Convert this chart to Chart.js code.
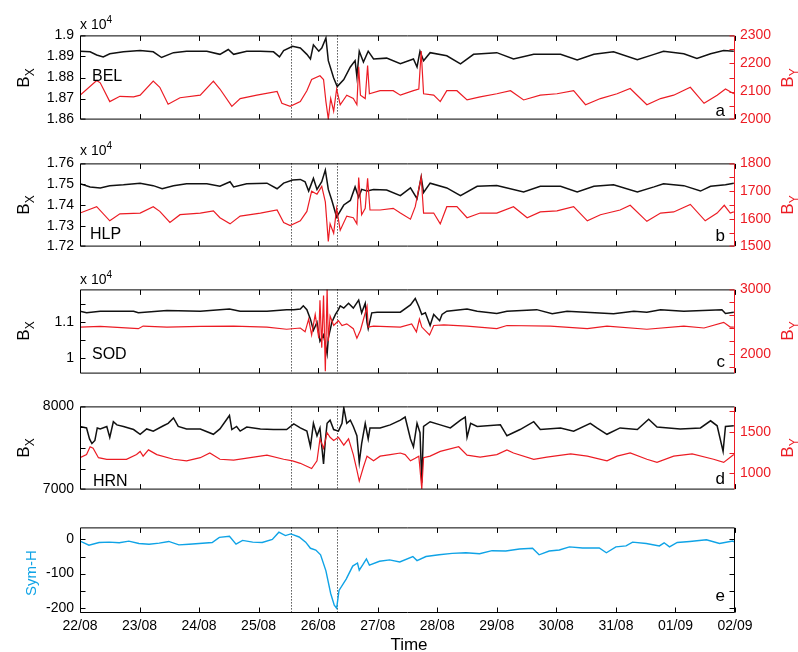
<!DOCTYPE html>
<html>
<head>
<meta charset="utf-8">
<script src="https://cdn.jsdelivr.net/npm/chart.js@4"></script>
<style>
body { margin: 0; background: #fff; }
#fig { position: relative; width: 798px; height: 652px; overflow: hidden; font-family: "Liberation Sans", Arial, Helvetica, sans-serif; color: #000; }
.panel { position: absolute; left: 0; }
.txt { position: absolute; line-height: 1; white-space: nowrap; }
.rot { position: absolute; line-height: 1; white-space: nowrap; font-size: 17px; transform: translate(-50%, -50%) rotate(-90deg); }
.rot sub { font-size: 12px; vertical-align: -5px; }
.mult sup { font-size: 10px; vertical-align: 6px; }
</style>
</head>
<body>
<div id="fig">
  <canvas id="cA" class="panel" width="798" height="113" style="top:21px"></canvas>
  <canvas id="cB" class="panel" width="798" height="112" style="top:149px"></canvas>
  <canvas id="cC" class="panel" width="798" height="113" style="top:275px"></canvas>
  <canvas id="cD" class="panel" width="798" height="112" style="top:392px"></canvas>
  <canvas id="cE" class="panel" width="798" height="130" style="top:513px"></canvas>

  <div class="txt mult" style="left:80px;top:15px;font-size:14px">x 10<sup>4</sup></div>
  <div class="txt mult" style="left:80px;top:141px;font-size:14px">x 10<sup>4</sup></div>
  <div class="txt mult" style="left:80px;top:270px;font-size:14px">x 10<sup>4</sup></div>

  <div class="txt" style="left:92px;top:68px;font-size:16px">BEL</div>
  <div class="txt" style="left:90px;top:226px;font-size:16px">HLP</div>
  <div class="txt" style="left:92px;top:346px;font-size:16px">SOD</div>
  <div class="txt" style="left:93px;top:473px;font-size:16px">HRN</div>

  <div class="txt" style="right:73px;top:102px;font-size:17px">a</div>
  <div class="txt" style="right:73px;top:227px;font-size:17px">b</div>
  <div class="txt" style="right:73px;top:353px;font-size:17px">c</div>
  <div class="txt" style="right:73px;top:470px;font-size:17px">d</div>
  <div class="txt" style="right:73px;top:587px;font-size:17px">e</div>

  <div class="rot" style="left:25px;top:78px">B<sub>X</sub></div>
  <div class="rot" style="left:25px;top:205px">B<sub>X</sub></div>
  <div class="rot" style="left:25px;top:331px">B<sub>X</sub></div>
  <div class="rot" style="left:25px;top:448px">B<sub>X</sub></div>
  <div class="rot" style="left:789px;top:78px;color:#ec1c24">B<sub>Y</sub></div>
  <div class="rot" style="left:789px;top:205px;color:#ec1c24">B<sub>Y</sub></div>
  <div class="rot" style="left:789px;top:331px;color:#ec1c24">B<sub>Y</sub></div>
  <div class="rot" style="left:789px;top:448px;color:#ec1c24">B<sub>Y</sub></div>
  <div class="rot" style="left:30px;top:573px;font-size:15px;color:#0fa3e6">Sym-H</div>

  <div class="txt" style="left:409px;top:636px;font-size:17px;transform:translateX(-50%)">Time</div>
</div>

<script>
const FONT = '"Liberation Sans", Arial, Helvetica, sans-serif';
const RED = '#ec1c24';
const BLUE = '#0fa3e6';
const BLACK = '#111';

// time axis: days since 22/08 00:00
const dayTicks = [0, 1, 2, 3, 4, 5, 6, 7, 8, 9, 10, 11];
const dateLabels = ['22/08', '23/08', '24/08', '25/08', '26/08', '27/08', '28/08', '29/08', '30/08', '31/08', '01/09', '02/09'];
const eventDays = [3.55, 4.32];

// BEL
const belXDay = [0.00,0.17,0.28,0.39,0.50,0.73,1.01,1.23,1.37,1.57,1.79,2.13,2.35,2.49,2.58,2.80,3.03,3.25,3.35,3.42,3.57,3.70,3.81,3.87,3.92,4.01,4.06,4.13,4.17,4.26,4.32,4.43,4.54,4.62,4.65,4.69,4.76,4.84,4.93,5.15,5.38,5.60,5.66,5.71,5.77,5.88,6.16,6.39,6.61,7.00,7.28,7.62,8.07,8.35,8.63,8.96,9.36,9.64,9.80,10.14,10.36,10.59,10.81,10.98];
const belX = [18925,18922,18907,18898,18913,18922,18928,18922,18895,18918,18925,18925,18910,18933,18910,18925,18925,18922,18898,18928,18948,18940,18910,18888,18955,18925,18940,18988,18880,18798,18757,18790,18850,18880,18805,18925,18873,18925,18888,18892,18865,18888,18850,18925,18880,18918,18903,18865,18910,18918,18888,18910,18910,18883,18910,18922,18885,18910,18925,18913,18891,18913,18928,18925];
const belYDay = [0.00,0.28,0.34,0.50,0.67,0.90,1.01,1.23,1.34,1.48,1.68,2.02,2.24,2.35,2.55,2.69,2.97,3.31,3.39,3.53,3.70,3.81,3.89,4.03,4.09,4.13,4.17,4.21,4.26,4.31,4.37,4.48,4.59,4.65,4.68,4.71,4.79,4.83,4.86,5.04,5.26,5.38,5.60,5.69,5.73,5.77,5.94,6.05,6.16,6.33,6.50,6.72,7.00,7.23,7.45,7.73,8.01,8.29,8.49,8.74,9.02,9.24,9.52,9.75,9.97,10.25,10.48,10.70,10.84,10.98];
const belY = [2087,2139,2131,2064,2083,2081,2087,2137,2115,2055,2078,2087,2137,2109,2047,2075,2087,2100,2058,2047,2064,2103,2143,2156,2143,2064,2002,2075,2030,2109,2053,2087,2075,2053,2188,2087,2075,2193,2092,2103,2103,2087,2103,2109,2244,2092,2087,2064,2103,2103,2070,2081,2092,2103,2070,2087,2092,2103,2053,2075,2092,2111,2053,2075,2087,2115,2058,2087,2109,2092];

// HLP
const hlpXDay = [0.00,0.17,0.34,0.50,0.73,1.01,1.23,1.38,1.57,1.79,2.13,2.35,2.52,2.58,2.80,3.14,3.31,3.42,3.57,3.70,3.78,3.84,3.92,3.98,4.06,4.12,4.17,4.23,4.31,4.43,4.54,4.62,4.68,4.73,4.82,4.93,5.15,5.38,5.55,5.66,5.73,5.77,5.88,6.16,6.39,6.67,7.00,7.45,7.73,8.07,8.35,8.63,8.96,9.36,9.64,9.80,10.14,10.42,10.59,10.84,10.98];
const hlpX = [17502,17487,17482,17493,17497,17505,17493,17478,17493,17502,17502,17490,17512,17487,17502,17505,17478,17505,17520,17523,17512,17467,17528,17475,17512,17568,17475,17422,17342,17400,17422,17487,17437,17475,17467,17475,17472,17445,17482,17430,17535,17460,17505,17482,17445,17490,17494,17463,17490,17490,17463,17490,17497,17463,17487,17502,17493,17467,17490,17497,17505];
const hlpYDay = [0.00,0.28,0.50,0.67,1.01,1.23,1.34,1.51,1.68,2.02,2.24,2.35,2.52,2.69,3.03,3.31,3.42,3.53,3.70,3.81,3.89,3.98,4.06,4.12,4.17,4.20,4.26,4.31,4.37,4.48,4.59,4.65,4.68,4.73,4.79,4.83,4.87,5.04,5.26,5.38,5.55,5.63,5.73,5.77,5.94,6.05,6.16,6.33,6.50,6.72,7.00,7.28,7.51,7.73,8.01,8.29,8.52,8.74,9.07,9.24,9.52,9.75,9.97,10.25,10.50,10.70,10.82,10.92,10.98];
const hlpY = [1621,1644,1593,1618,1621,1644,1627,1587,1615,1621,1629,1604,1582,1610,1621,1632,1587,1576,1593,1627,1700,1689,1717,1661,1519,1582,1548,1638,1559,1610,1604,1582,1749,1615,1638,1746,1632,1632,1638,1621,1599,1644,1751,1621,1621,1582,1644,1644,1604,1621,1621,1644,1604,1625,1629,1644,1593,1615,1632,1649,1591,1621,1625,1652,1593,1621,1649,1621,1625];

// SOD
const sodXDay = [0.00,0.11,0.34,0.90,0.98,1.46,2.02,2.51,2.69,3.14,3.47,3.59,3.70,3.75,3.81,3.87,3.92,3.98,4.03,4.09,4.15,4.17,4.23,4.29,4.34,4.37,4.43,4.51,4.59,4.68,4.73,4.79,4.82,4.84,4.90,4.99,5.38,5.55,5.63,5.69,5.74,5.80,5.88,5.94,6.04,6.08,6.16,6.50,6.67,7.00,7.17,7.67,7.93,8.18,8.96,9.30,9.52,9.75,10.14,10.78,10.84,10.98];
const sodX = [11310,11265,11310,11310,11265,11327,11310,11372,11310,11310,11354,11354,11372,11460,11354,11088,10779,11000,10469,10646,10115,10558,11000,11221,11354,11460,11398,11531,11398,11620,11265,11531,11000,10823,11265,11283,11283,11487,11664,11443,11221,11265,10912,11221,11044,11221,11310,11372,11310,11248,11310,11354,11239,11310,11239,11310,11283,11354,11310,11354,11248,11283];
const sodYDay = [0.00,0.34,0.98,1.06,1.46,2.02,2.58,3.14,3.47,3.70,3.78,3.84,3.89,3.95,4.01,4.03,4.06,4.09,4.12,4.15,4.17,4.20,4.26,4.34,4.40,4.48,4.59,4.65,4.71,4.82,4.84,4.93,5.38,5.57,5.65,5.70,5.74,5.87,5.94,6.11,6.50,7.00,7.17,7.90,8.52,8.85,9.52,10.14,10.48,10.81,10.92,10.98];
const sodY = [2417,2427,2392,2432,2417,2427,2432,2417,2383,2402,2343,2539,2294,2613,2245,2833,2098,2907,1731,3005,2196,2588,2441,2515,2441,2466,2392,2245,2368,2735,2417,2432,2417,2466,2343,2539,2417,2294,2441,2451,2432,2392,2441,2432,2392,2432,2383,2432,2402,2490,2417,2417];

// HRN
const hrnXDay = [0.00,0.11,0.16,0.20,0.25,0.29,0.34,0.45,0.50,0.56,0.62,0.73,0.90,1.01,1.12,1.23,1.40,1.48,1.57,1.65,1.79,2.02,2.24,2.35,2.51,2.55,2.63,2.69,2.80,3.03,3.25,3.47,3.59,3.70,3.81,3.87,3.92,3.98,4.03,4.09,4.12,4.15,4.20,4.26,4.34,4.40,4.43,4.48,4.54,4.59,4.65,4.69,4.73,4.79,4.84,4.87,5.04,5.21,5.38,5.46,5.55,5.60,5.66,5.71,5.74,5.77,5.88,6.05,6.22,6.39,6.47,6.50,6.56,6.67,7.06,7.17,7.39,7.62,7.73,8.07,8.29,8.57,8.68,8.85,9.07,9.36,9.55,9.69,10.08,10.42,10.59,10.70,10.80,10.84,10.98];
const hrnX = [7759,7741,7609,7553,7590,7741,7729,7759,7628,7816,7778,7759,7722,7665,7729,7703,7767,7797,7861,7759,7729,7729,7665,7729,7891,7722,7759,7703,7752,7729,7722,7722,7789,7741,7703,7515,7797,7647,7741,7308,7590,7797,7835,7722,7703,7797,7985,7797,7835,7759,7647,7327,7553,7797,7609,7741,7741,7778,7835,7872,7609,7515,7797,7684,7083,7759,7816,7778,7741,7835,7872,7628,7797,7759,7778,7647,7722,7816,7722,7741,7703,7797,7741,7665,7741,7722,7846,7752,7729,7741,7827,7767,7459,7759,7767];
const hrnYDay = [0.00,0.11,0.17,0.22,0.31,0.45,0.78,0.95,1.01,1.06,1.15,1.29,1.57,1.79,2.02,2.18,2.35,2.58,2.86,3.14,3.42,3.57,3.70,3.89,3.98,4.03,4.09,4.15,4.20,4.26,4.34,4.43,4.51,4.59,4.65,4.69,4.76,4.82,4.93,5.04,5.21,5.38,5.46,5.55,5.63,5.69,5.74,5.77,5.88,6.05,6.36,6.50,6.72,7.00,7.17,7.28,7.62,7.84,8.24,8.52,8.85,9.02,9.24,9.52,9.69,9.97,10.28,10.64,10.81,10.98];
const hrnY = [1189,1227,1322,1303,1189,1170,1170,1227,1265,1208,1284,1227,1170,1151,1189,1246,1170,1159,1189,1220,1170,1151,1121,1057,1151,1417,1303,1492,1436,1398,1436,1341,1417,1227,1038,905,1076,1208,1151,1208,1227,1246,1227,1151,1182,1208,810,1189,1208,1265,1322,1220,1197,1227,1284,1246,1170,1197,1235,1208,1151,1208,1246,1170,1132,1208,1235,1170,1132,1227];

// Sym-H
const symDay = [0.00,0.15,0.32,0.49,0.66,0.82,0.99,1.16,1.33,1.49,1.66,1.83,2.00,2.22,2.34,2.51,2.62,2.73,2.90,3.06,3.23,3.34,3.45,3.54,3.68,3.79,3.87,3.96,4.04,4.13,4.21,4.27,4.31,4.35,4.47,4.58,4.66,4.69,4.75,4.81,4.86,5.03,5.20,5.37,5.59,5.66,5.81,6.03,6.25,6.48,6.71,6.92,7.15,7.38,7.60,7.71,7.88,8.05,8.22,8.44,8.72,8.84,9.00,9.17,9.28,9.51,9.73,9.81,9.90,10.03,10.24,10.52,10.74,10.96,11.00];
const symH = [-5,-17,-9,-8,-10,-5,-12,-14,-11,-6,-16,-14,-12,-9,6,9,-14,-3,-8,-9,0,21,11,16,7,-8,-26,-31,-45,-92,-158,-192,-201,-149,-116,-78,-69,-90,-74,-57,-75,-64,-60,-66,-50,-62,-50,-45,-41,-39,-42,-33,-34,-28,-26,-45,-34,-31,-22,-25,-25,-39,-22,-19,-8,-12,-19,-10,-22,-9,-6,-1,-12,-5,-8];

// axis ticks and their labels
const belXTicks = [18600, 18700, 18800, 18900, 19000];
const belXLabels = ['1.86', '1.87', '1.88', '1.89', '1.9'];
const belYTicks = [2000, 2050, 2100, 2150, 2200, 2250, 2300];
const belYLabels = ['2000', '', '2100', '', '2200', '', '2300'];
const hlpXTicks = [17200, 17300, 17400, 17500, 17600];
const hlpXLabels = ['1.72', '1.73', '1.74', '1.75', '1.76'];
const hlpYTicks = [1500, 1550, 1600, 1650, 1700, 1750, 1800];
const hlpYLabels = ['1500', '', '1600', '', '1700', '', '1800'];
const sodXTicks = [10000, 10500, 11000, 11500];
const sodXLabels = ['1', '', '1.1', ''];
const sodYTicks = [1800, 2000, 2200, 2400, 2600, 2800, 3000];
const sodYLabels = ['', '2000', '', '', '', '', '3000'];
const hrnXTicks = [7000, 7250, 7500, 7750, 8000];
const hrnXLabels = ['7000', '', '', '', '8000'];
const hrnYTicks = [1000, 1250, 1500, 1750];
const hrnYLabels = ['1000', '', '1500', ''];
const symTicks = [-200, -150, -100, -50, 0];
const symLabels = ['-200', '', '-100', '', '0'];

Chart.defaults.font.family = FONT;
Chart.defaults.color = '#000';

let frameCfg = {};

function pts(days, vals) {
  return days.map((d, i) => ({ x: d, y: vals[i] }));
}

function seg(ctx, x1, y1, x2, y2) {
  ctx.beginPath();
  ctx.moveTo(x1, y1);
  ctx.lineTo(x2, y2);
  ctx.stroke();
}

const framePlugin = {
  id: 'frame',
  beforeDatasetsDraw(chart) {
    const ctx = chart.ctx, a = chart.chartArea, xs = chart.scales.x;
    ctx.save();
    ctx.strokeStyle = '#000';
    ctx.lineWidth = 1;
    ctx.setLineDash([1, 2]);
    eventDays.forEach(d => {
      const px = Math.round(xs.getPixelForValue(d)) + 0.5;
      seg(ctx, px, a.top, px, a.bottom);
    });
    ctx.restore();
  },
  afterDraw(chart) {
    const c = frameCfg[chart.canvas.id];
    const ctx = chart.ctx, a = chart.chartArea, xs = chart.scales.x;
    const L = a.left + 0.5, R = a.right - 0.5, T = a.top + 0.5, B = a.bottom - 0.5;
    const yPix = (scale, v) => Math.min(B, Math.max(T, Math.round(scale.getPixelForValue(v)) + 0.5));
    ctx.save();
    ctx.lineWidth = 1;
    ctx.strokeStyle = '#000';
    dayTicks.forEach(d => {
      const px = Math.round(xs.getPixelForValue(d)) + 0.5;
      seg(ctx, px, T, px, T + 5);
      seg(ctx, px, B, px, B - 5);
    });
    c.left.forEach(v => {
      const py = yPix(chart.scales.yL, v);
      seg(ctx, L, py, L + 5, py);
    });
    seg(ctx, L, T, R, T);
    seg(ctx, L, B, R, B);
    seg(ctx, L, T, L, B);
    ctx.strokeStyle = c.rightColor;
    c.right.forEach(v => {
      const py = yPix(chart.scales[c.rightScale], v);
      seg(ctx, R, py, R - 5, py);
    });
    seg(ctx, R, T, R, B);
    ctx.restore();
  }
};

function yAxis(pos, min, max, ticks, labels, color, width) {
  return {
    type: 'linear',
    position: pos,
    min: min,
    max: max,
    grid: { display: false, drawTicks: false },
    border: { display: false },
    afterBuildTicks: s => { s.ticks = ticks.map(v => ({ value: v })); },
    afterFit: s => { s.width = width; },
    ticks: {
      autoSkip: false,
      padding: pos == 'left' ? 6 : 5,
      color: color,
      font: { size: 14 },
      callback: (v, i) => labels[i]
    }
  };
}

function makePanel(id, black, red, left, right) {
  frameCfg[id] = { left: left.ticks, right: right.ticks, rightScale: 'yR', rightColor: RED };
  new Chart(document.getElementById(id), {
    type: 'line',
    data: {
      datasets: [
        { data: red, yAxisID: 'yR', borderColor: RED, borderWidth: 1.2, pointRadius: 0, tension: 0 },
        { data: black, yAxisID: 'yL', borderColor: BLACK, borderWidth: 1.5, pointRadius: 0, tension: 0 }
      ]
    },
    options: {
      responsive: false,
      animation: false,
      devicePixelRatio: 1,
      events: [],
      layout: { padding: { top: 12, bottom: 12, left: 0, right: 0 } },
      plugins: { legend: { display: false }, tooltip: { enabled: false } },
      scales: {
        x: { type: 'linear', min: 0, max: 11, display: false },
        yL: yAxis('left', left.min, left.max, left.ticks, left.labels, '#000', 80),
        yR: yAxis('right', right.min, right.max, right.ticks, right.labels, RED, 63)
      }
    },
    plugins: [framePlugin]
  });
}

makePanel('cA', pts(belXDay, belX), pts(belYDay, belY),
  { min: 18600, max: 19000, ticks: belXTicks, labels: belXLabels },
  { min: 2000, max: 2300, ticks: belYTicks, labels: belYLabels });

makePanel('cB', pts(hlpXDay, hlpX), pts(hlpYDay, hlpY),
  { min: 17200, max: 17600, ticks: hlpXTicks, labels: hlpXLabels },
  { min: 1500, max: 1800, ticks: hlpYTicks, labels: hlpYLabels });

makePanel('cC', pts(sodXDay, sodX), pts(sodYDay, sodY),
  { min: 9566, max: 11920, ticks: sodXTicks, labels: sodXLabels },
  { min: 1696, max: 3000, ticks: sodYTicks, labels: sodYLabels });

makePanel('cD', pts(hrnXDay, hrnX), pts(hrnYDay, hrnY),
  { min: 7000, max: 8000, ticks: hrnXTicks, labels: hrnXLabels },
  { min: 803, max: 1810, ticks: hrnYTicks, labels: hrnYLabels });

// Sym-H panel with the date axis
frameCfg['cE'] = { left: symTicks, right: symTicks, rightScale: 'yL', rightColor: '#000' };
new Chart(document.getElementById('cE'), {
  type: 'line',
  data: {
    datasets: [
      { data: pts(symDay, symH), yAxisID: 'yL', borderColor: BLUE, borderWidth: 1.4, pointRadius: 0, tension: 0 }
    ]
  },
  options: {
    responsive: false,
    animation: false,
    devicePixelRatio: 1,
    events: [],
    layout: { padding: { top: 12, bottom: 0, left: 0, right: 63 } },
    plugins: { legend: { display: false }, tooltip: { enabled: false } },
    scales: {
      x: {
        type: 'linear',
        min: 0,
        max: 11,
        grid: { display: false, drawTicks: false },
        border: { display: false },
        afterBuildTicks: s => { s.ticks = dayTicks.map(v => ({ value: v })); },
        afterFit: s => { s.height = 30; },
        ticks: { autoSkip: false, maxRotation: 0, padding: 5, font: { size: 14 }, callback: (v, i) => dateLabels[i] }
      },
      yL: yAxis('left', -215, 35, symTicks, symLabels, '#000', 80)
    }
  },
  plugins: [framePlugin]
});
</script>
</body>
</html>
